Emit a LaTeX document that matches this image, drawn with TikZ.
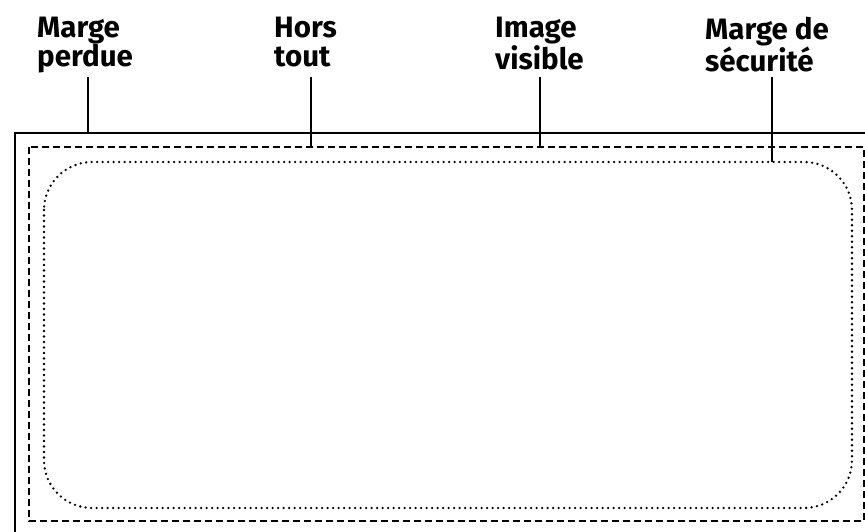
\documentclass[tikz,border=0pt]{standalone}
\usepackage{fontspec}
\setmainfont{Fira Sans}

\begin{document}
\begin{tikzpicture}[x=1pt,y=-1pt]
    \tikzstyle{caption}=[anchor=north west, align=left, inner sep=0pt, font=\fontsize{29.5}{29}\selectfont\bfseries]
    \tikzstyle{leader}=[line width=2.2pt]

    \clip (0,0) rectangle (865,531);

    % Frames
    \draw[line width=1.4pt] (15,133) rectangle (885,550);
    \draw[line width=2.4pt, dash pattern=on 7pt off 4pt] (29,147) rectangle (864,521);
    \draw[line width=2.6pt, line cap=round, dash pattern=on 0pt off 5.5pt, rounded corners=48pt] (44,162) rectangle (852,508);

    % Labels
    \node[caption] (perdue) at (37,17) {Marge\\perdue};
    \node[caption] (hors) at (274,17) {Hors\\tout};
    \node[caption] (visible) at (495,17) {Image\\visible};
    \node[caption] (securite) at (705,17) {Marge de\\sécurité};

    % Leaders
    \coordinate (leadtop) at (0,77);
    \coordinate (bleed) at (88,133);
    \coordinate (trim) at (311,147);
    \coordinate (view) at (540,147);
    \coordinate (safe) at (772,162);
    \draw[leader] (bleed |- leadtop) -- (bleed);
    \draw[leader] (trim |- leadtop) -- (trim);
    \draw[leader] (view |- leadtop) -- (view);
    \draw[leader] (safe |- leadtop) -- (safe);
\end{tikzpicture}
\end{document}
